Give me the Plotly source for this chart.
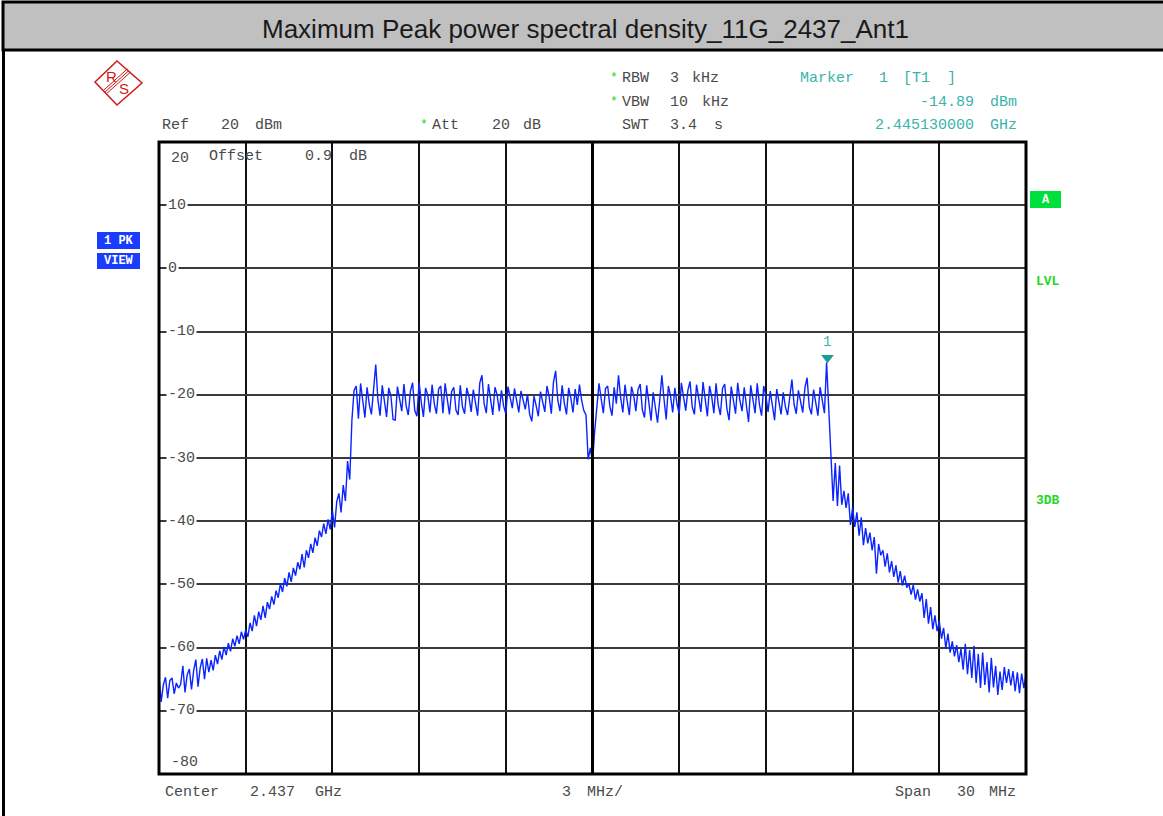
import numpy as np
import plotly.graph_objects as go

# Sweep settings (GHz / dBm)
START_GHZ = 2.422
STOP_GHZ = 2.452
CENTER_GHZ = 2.437
DIV_GHZ = 0.003
REF_DBM = 20
BOTTOM_DBM = -80
Y_TICKS = [10, 0, -10, -20, -30, -40, -50, -60, -70]

MARKER_GHZ = 2.44513
MARKER_DBM = -14.89

# Trace 1 (max peak), split by region of the sweep
left_skirt = [
    -64.6, -68.6, -65.9, -64.7, -68.0, -65.2, -64.8, -67.3, -65.6, -66.4,
    -65.8, -62.9, -67.1, -64.3, -63.4, -66.6, -63.6, -61.9, -66.2, -63.2,
    -61.8, -65.0, -61.7, -63.9, -62.0, -63.6, -61.2, -62.6, -60.5, -61.9,
    -59.9, -61.2, -59.3, -60.6, -58.6, -59.8, -58.1, -59.4, -57.5, -58.7,
    -57.2, -58.3, -56.1, -57.4, -54.9, -56.6, -54.3, -55.6, -53.4, -55.3,
    -52.8, -53.9, -51.9, -53.2, -51.0, -52.1, -49.9, -51.2, -49.0, -50.3,
    -48.1, -49.6, -47.4, -48.6, -46.5, -47.6, -45.2, -47.3, -44.6, -45.8,
    -43.6, -45.0, -42.6, -43.9, -41.5, -42.5, -40.4, -42.0, -39.7, -41.3,
    -38.3, -41.0, -36.9, -35.6, -38.6, -34.3, -36.8, -30.5, -33.4,
]
lower_band = [
    -24.0, -19.3, -18.6, -23.8, -18.2, -20.9, -23.6, -18.8, -21.5, -23.1,
    -19.0, -15.2, -20.8, -23.3, -18.5, -21.0, -23.5, -18.9, -20.2, -23.9,
    -24.0, -18.7, -20.4, -22.6, -18.3, -21.7, -23.2, -19.4, -18.1, -22.5,
    -23.4, -18.0, -21.2, -23.5, -18.9, -20.1, -22.8, -18.4, -21.4, -23.0,
    -19.1, -18.6, -22.9, -18.2, -20.7, -23.1, -19.5, -18.8, -22.4, -23.2,
    -18.5, -21.9, -23.0, -18.9, -20.3, -22.7, -19.2, -21.5, -23.3, -18.1,
    -16.9, -21.4, -22.9, -18.3, -20.6, -23.2, -18.8, -20.0, -22.6, -19.3,
    -21.8, -23.0, -18.7, -20.4, -22.1, -19.0, -21.2, -22.8, -19.4, -20.8,
    -22.3, -19.9, -23.1, -24.2, -20.2, -21.7, -23.4, -19.5, -21.0, -22.7,
    -18.6, -20.3, -23.0, -18.0, -16.2, -20.9, -22.6, -18.5, -21.3, -23.1,
    -18.9, -20.5, -22.8, -19.1, -21.6, -18.4, -20.9, -22.5,
]
center_notch = [-23.2, -30.2, -28.4, -30.7, -25.8, -22.0]
upper_band = [
    -18.2, -20.6, -22.9, -19.0, -18.6, -21.8, -23.3, -18.8, -21.4, -16.9,
    -20.5, -22.8, -18.4, -21.0, -23.2, -18.7, -20.1, -22.6, -19.2, -18.3,
    -22.4, -23.6, -18.5, -21.2, -24.1, -19.6, -22.3, -24.4, -20.9, -16.9,
    -20.7, -23.9, -18.6, -20.2, -22.8, -18.9, -21.5, -23.0, -18.1, -20.6,
    -22.5, -19.3, -17.9, -21.9, -23.1, -18.4, -20.8, -22.7, -18.0, -21.1,
    -23.4, -18.6, -20.3, -22.9, -18.2, -21.6, -23.2, -19.0, -18.3, -22.2,
    -24.0, -18.7, -21.3, -23.0, -18.1, -20.9, -22.6, -18.8, -21.7, -24.3,
    -18.5, -20.4, -22.9, -18.2, -21.5, -23.3, -18.6, -20.2, -22.7, -19.4,
    -21.8, -24.0, -19.1, -21.2, -23.1, -19.6, -21.9, -23.2, -20.4, -17.6,
    -21.5, -23.0, -19.3, -21.1, -22.8, -18.9, -17.3, -21.9, -23.1, -19.2,
    -21.0, -23.3, -18.8, -20.6, -22.9, MARKER_DBM,
]
right_skirt = [
    -23.0, -28.4, -36.8, -30.8, -37.6, -31.2, -37.4, -35.2, -37.9, -35.6,
    -40.6, -37.8, -40.9, -38.6, -42.3, -39.4, -43.8, -41.1, -43.5, -41.8,
    -44.6, -42.5, -48.3, -43.6, -45.4, -44.6, -47.2, -45.1, -48.1, -46.3,
    -48.8, -47.0, -49.7, -47.9, -50.2, -48.6, -50.5, -49.9, -51.6, -50.1,
    -52.4, -50.8, -52.7, -51.4, -55.3, -52.3, -56.2, -53.6, -57.1, -54.9,
    -57.4, -55.8, -58.6, -56.9, -60.1, -57.8, -60.8, -59.0, -61.4, -59.6,
    -62.3, -60.2, -63.5, -59.4, -64.2, -60.4, -64.8, -59.7, -65.6, -61.0,
    -66.4, -60.8, -65.9, -62.3, -67.1, -61.6, -66.3, -62.9, -67.5, -63.8,
    -66.7, -63.1, -65.6, -63.4, -66.0, -63.7, -66.9, -63.9, -67.2, -64.1,
    -66.4, -64.2,
]

levels = left_skirt + lower_band + center_notch + upper_band + right_skirt
freqs = np.linspace(START_GHZ, STOP_GHZ, len(levels))

# Page geometry (pixels)
W, H = 1163, 816
PL, PR, PT, PB = 159, 1026, 142, 774


def fx(px):
    return (px - PL) / (PR - PL)


def fy(py):
    return (PB - py) / (PB - PT)


GRAY = "#4a4a4a"
TEAL = "#3ab3ad"
GREEN = "#1fd81f"
MONO = "Liberation Mono"

annotations = []


def text(x, y, s, color=GRAY, size=15, anchor="left", family=MONO, bold=False):
    annotations.append(dict(
        x=fx(x), y=fy(y), xref="paper", yref="paper", text=f"<b>{s}</b>" if bold else s,
        showarrow=False, xanchor=anchor, yanchor="middle",
        font=dict(family=family, size=size, color=color),
    ))


# Title bar
text(585, 29, "Maximum Peak power spectral density_11G_2437_Ant1",
     color="#1a1a1a", size=26, anchor="center", family="Liberation Sans")

# Instrument settings header
text(160, 125, "Ref")
text(219, 125, f"{REF_DBM}")
text(253, 125, "dBm")
text(418, 124, "*", color=GREEN, size=13)
text(430, 125, "Att")
text(490, 125, "20")
text(521, 125, "dB")
for yy in (78, 101):
    text(608, yy, "*", color=GREEN, size=13)
text(620, 79, "RBW")
text(668, 79, "3")
text(690, 79, "kHz")
text(620, 102, "VBW")
text(668, 102, "10")
text(700, 102, "kHz")
text(620, 125, "SWT")
text(668, 125, "3.4")
text(712, 125, "s")

# Marker readout
text(798, 79, "Marker", color=TEAL)
text(877, 79, "1", color=TEAL)
text(901, 79, "[T1", color=TEAL)
text(945, 79, "]", color=TEAL)
text(976, 102, f"{MARKER_DBM:.2f}", color=TEAL, anchor="right")
text(1019, 102, "dBm", color=TEAL, anchor="right")
text(976, 125, f"{MARKER_GHZ:.9f}", color=TEAL, anchor="right")
text(1019, 125, "GHz", color=TEAL, anchor="right")

# Inside the graticule
text(207, 156, "Offset")
text(303, 156, "0.9")
text(347, 156, "dB")
text(169, 158, f"{REF_DBM}")
text(169, 762, f"{BOTTOM_DBM}")

# Footer
text(163, 792, "Center")
text(248, 792, f"{CENTER_GHZ:.3f}")
text(313, 792, "GHz")
text(560, 792, f"{DIV_GHZ * 1000:.0f}")
text(585, 792, "MHz/")
text(893, 792, "Span")
text(955, 792, f"{(STOP_GHZ - START_GHZ) * 1000:.0f}")
text(987, 792, "MHz")

# Side indicators
text(118.5, 241, "1 PK", color="white", size=12, anchor="center", bold=True)
text(118.5, 261, "VIEW", color="white", size=12, anchor="center", bold=True)
text(1045.5, 200, "A", color="white", size=12, anchor="center", bold=True)
text(1047.5, 281, "LVL", color=GREEN, size=13, anchor="center", bold=True)
text(1047.5, 500, "3DB", color=GREEN, size=13, anchor="center", bold=True)

# Logo letters
text(111.5, 76, "R", color="#d01818", size=15, anchor="center", family="Liberation Sans")
text(124, 88, "S", color="#d01818", size=15, anchor="center", family="Liberation Sans")

# Level scale labels sitting on the grid lines
for v in Y_TICKS:
    annotations.append(dict(
        x=fx(166), y=v, xref="paper", yref="y", text=f"{v}", showarrow=False,
        xanchor="left", yanchor="middle", bgcolor="white", borderpad=1,
        font=dict(family=MONO, size=15, color=GRAY),
    ))

# Marker number above the marker symbol
annotations.append(dict(
    x=MARKER_GHZ, y=MARKER_DBM, xref="x", yref="y", text="1", showarrow=False,
    yshift=21, font=dict(family=MONO, size=14, color=TEAL),
))

shapes = []


def rect(x0, y0, x1, y1, fill, line_color=None, lw=0, layer="above"):
    shapes.append(dict(
        type="rect", xref="paper", yref="paper",
        x0=fx(x0), x1=fx(x1), y0=fy(y0), y1=fy(y1), fillcolor=fill,
        line=dict(color=line_color or fill, width=lw), layer=layer,
    ))


def seg(x0, y0, x1, y1, color, lw):
    shapes.append(dict(
        type="line", xref="paper", yref="paper",
        x0=fx(x0), x1=fx(x1), y0=fy(y0), y1=fy(y1),
        line=dict(color=color, width=lw), layer="above",
    ))


# Title bar and page border
rect(3, 2, 1175, 50, "#c0c0c0", "black", 3, layer="below")
seg(3.5, 50, 3.5, 830, "black", 3)

# Side badges
rect(97, 232, 140, 249, "#1a3cff")
rect(97, 253, 140, 269, "#1a3cff")
rect(1030, 191, 1061, 208, "#00e03c")

# R&S logo outline and dividing stripes
logo = [(117, 61), (142, 83), (117, 105), (95, 82)]
path = "M " + " L ".join(f"{fx(a)},{fy(b)}" for a, b in logo) + " Z"
shapes.append(dict(type="path", xref="paper", yref="paper", path=path,
                   line=dict(color="#d01818", width=1.5), layer="above"))
for d in (-1.6, 0, 1.6):
    seg(105 + d, 92 + d, 129 + d, 70.5 + d, "#d01818", 1)

# Center frequency line and graticule frame
shapes.append(dict(type="line", xref="x", yref="paper", x0=CENTER_GHZ, x1=CENTER_GHZ,
                   y0=0, y1=1, line=dict(color="black", width=3), layer="above"))
shapes.append(dict(type="rect", xref="paper", yref="paper", x0=0, x1=1, y0=0, y1=1,
                   line=dict(color="black", width=3), layer="above"))

fig = go.Figure()
fig.add_trace(go.Scatter(
    x=freqs, y=levels, mode="lines",
    line=dict(color="#0a24ff", width=1.4), hoverinfo="skip",
))
fig.add_trace(go.Scatter(
    x=[MARKER_GHZ], y=[MARKER_DBM + 0.75], mode="markers",
    marker=dict(symbol="triangle-down", size=11, color="#1a9e94"),
    hoverinfo="skip",
))

fig.update_layout(
    width=W, height=H,
    margin=dict(l=PL, r=W - PR, t=PT, b=H - PB, pad=0),
    paper_bgcolor="white", plot_bgcolor="white",
    showlegend=False,
    shapes=shapes, annotations=annotations,
    xaxis=dict(range=[START_GHZ, STOP_GHZ], tick0=START_GHZ, dtick=DIV_GHZ,
               showgrid=True, gridcolor="#111111", gridwidth=1.6,
               showticklabels=False, ticks="", zeroline=False, showline=False,
               fixedrange=True),
    yaxis=dict(range=[BOTTOM_DBM, REF_DBM], tick0=0, dtick=10,
               showgrid=True, gridcolor="#3a3a3a", gridwidth=2,
               showticklabels=False, ticks="", zeroline=False, showline=False,
               fixedrange=True),
)

fig.write_html("out.html", config={"displayModeBar": False})
